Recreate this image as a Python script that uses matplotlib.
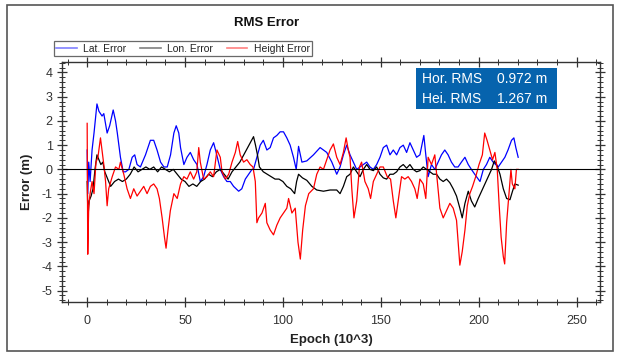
import matplotlib
matplotlib.use("Agg")
import matplotlib.pyplot as plt
from matplotlib.ticker import MultipleLocator
from matplotlib.lines import Line2D
from matplotlib.patches import Rectangle

plt.rcParams['font.family'] = ['Liberation Sans', 'DejaVu Sans']
plt.rcParams['axes.unicode_minus'] = False

# values (epoch in 10^3, error in m)
lat_epoch = [0, 0.3, 0.8, 1.5, 2.5, 3.5, 5, 6, 7.6, 8.5,
             10.2, 11.5, 13.3, 14.5, 15.4, 17, 18.4, 19.6, 21.3, 23,
             24.3, 25.5, 27.2, 29.8, 32.3, 34, 35.7, 37.5, 39.2, 40.9,
             42.6, 44.3, 45.5, 46.8, 47.7, 49.4, 51, 52.7, 54.4, 56.1,
             57.8, 59.5, 61.2, 62.9, 64.6, 65.9, 68, 69.7, 71.4, 73.1,
             74.8, 77.4, 79, 80.8, 82.5, 84.2, 85, 86.7, 88.4, 90,
             91.8, 93.5, 95.2, 96.9, 98.6, 100.3, 102, 103.7, 105.4, 106.8,
             108, 109.7, 112.2, 115.6, 119, 122.4, 125, 127.5, 129.2, 130.9,
             132.6, 134.3, 136, 137.7, 139.4, 141.1, 142.8, 144.5, 146.2, 147.9,
             149.6, 151.3, 153, 154.7, 156.4, 158.1, 159.8, 161.5, 163.2, 164.9,
             166.6, 168.3, 170, 172, 173, 174.2, 175.9, 177.6, 179.3, 181,
             182.7, 184.4, 186.1, 187.8, 189.5, 191.2, 193, 194.7, 196.3, 198,
             200.7, 202.4, 204, 205.7, 207.4, 210, 211.7, 213.4, 215, 216.8,
             218, 219, 220.2]
lat_err = [0.8, -1.0, 0.3, -0.5, 0.8, 1.5, 2.7, 2.4, 2.2, 2.3,
           1.5, 1.8, 2.45, 2.0, 1.5, 0.5, -0.1, -0.1, 0.0, 0.5,
           0.6, 0.2, 0.1, 0.6, 1.2, 1.2, 0.8, 0.3, 0.1, 0.1,
           0.6, 1.5, 1.8, 1.5, 0.9, 0.2, 0.5, 0.7, 0.4, 0.2,
           -0.5, -0.3, 0.2, 0.8, 1.1, 0.7, 0.0, -0.3, -0.5, -0.5,
           -0.7, -0.9, -0.8, -0.4, -0.2, 0.0, 0.0, 0.5, 1.0, 1.2,
           0.8, 0.9, 1.3, 1.4, 1.55, 1.55, 1.3, 1.0, 0.5, 0.0,
           0.95, 0.3, 0.35, 0.6, 0.9, 0.7, 0.3, -0.2, 0.1, 0.6,
           1.0, 0.6, 0.3, 0.0, 0.1, 0.2, 0.3, 0.1, 0.0, 0.2,
           0.5, 0.9, 1.0, 0.6, 0.8, 0.6, 0.9, 1.0, 0.7, 1.1,
           0.8, 0.5, 0.6, 1.4, 0.6, -0.3, 0.2, 0.0, 0.3, 0.6,
           0.8, 0.6, 0.3, 0.1, 0.1, 0.3, 0.5, 0.2, 0.0, -0.2,
           -0.5, 0.0, 0.2, 0.5, 0.3, 0.1, 0.3, 0.5, 0.8, 1.2,
           1.3, 0.9, 0.5]

lon_epoch = [0, 0.4, 1, 2, 3, 4, 5, 6, 7, 8,
             9, 10, 11, 12, 14, 16, 18, 20, 22, 24,
             26, 28, 30, 32, 34, 36, 38, 40, 42, 44,
             46, 48, 50, 52, 54, 56, 58, 60, 62, 64,
             66, 68, 70, 72, 74, 76, 78, 80, 82, 84,
             85, 86, 87, 88, 90, 92, 94, 96, 98, 100,
             102, 104, 106, 107, 108, 110, 112.2, 114.8, 117.3, 120.7,
             124.1, 127.5, 129.2, 130.9, 132.6, 134.3, 136, 137.7, 139.4, 141.1,
             142.8, 144.5, 146.2, 147.9, 149.6, 151.3, 153, 154.7, 156.4, 158.1,
             159.8, 161.5, 163.2, 164.9, 166.6, 168.3, 170, 171.7, 173.4, 175.1,
             176.8, 178.5, 180.2, 181.9, 183.6, 185.3, 187, 188.7, 190.4, 191.6,
             193, 194.7, 196.3, 198, 199.8, 201.5, 203.2, 204.9, 206.6, 208,
             209.2, 210.9, 212.6, 214.3, 216, 217.3, 218.5, 220.2]
lon_err = [-0.5, -2.0, -1.3, -1.1, -0.8, 0.0, 0.6, 0.4, 0.2, 0.3,
           -0.1, -0.3, -0.5, -0.7, -0.5, -0.4, -0.5, -0.4, -0.2, 0.1,
           -0.1, 0.0, 0.1, 0.0, 0.1, -0.1, 0.1, 0.0, -0.1, 0.0,
           -0.2, -0.4, -0.5, -0.7, -0.6, -0.7, -0.5, -0.4, -0.2, -0.3,
           -0.1, 0.0, -0.2, -0.4, -0.1, 0.1, 0.3, 0.6, 0.9, 1.2,
           1.35, 1.0, 0.6, 0.1, -0.1, -0.2, -0.3, -0.4, -0.4, -0.5,
           -0.7, -0.8, -1.0, -0.5, -0.2, -0.35, -0.45, -0.7, -0.85, -0.9,
           -0.85, -0.85, -1.0, -0.7, -0.3, -0.2, 0.1, -0.1, -0.3, 0.0,
           0.2, 0.0, -0.05, 0.1, -0.2, -0.35, -0.4, -0.2, -0.2, -0.1,
           0.1, 0.2, 0.05, 0.2, 0.0, -0.1, -0.05, 0.1, 0.0, -0.1,
           -0.2, -0.2, -0.4, -0.5, -0.4, -0.55, -0.8, -1.1, -1.6, -2.0,
           -1.4, -0.9, -1.3, -1.55, -1.2, -0.9, -0.6, -0.3, 0.0, 0.35,
           0.2, -0.2, -0.8, -1.2, -1.25, -0.9, -0.6, -0.65]

hgt_epoch = [0, 0.3, 0.8, 1.5, 2.5, 3.5, 4.5, 5.5, 6.8, 8.5,
             9.4, 10.2, 11, 12.8, 14.5, 16.2, 17, 18.7, 20.4, 22.1,
             23.8, 25.5, 27.2, 28.9, 30.6, 32.3, 34, 35.7, 36.9, 38.3,
             39.5, 40.3, 41.3, 42.5, 44.3, 46, 47.7, 49.4, 51, 52.7,
             54.4, 56, 57, 57.8, 59.5, 61.2, 62.9, 64.6, 66.3, 68,
             68.9, 70.6, 72.3, 74, 75.7, 76.9, 78.2, 79.9, 81.6, 83.3,
             84.7, 85.9, 86.7, 87.6, 89.3, 91, 91.8, 93.5, 95.2, 96.9,
             98.6, 100.3, 102, 102.9, 104.6, 106.3, 107.7, 108.9, 110.1, 111.5,
             113.2, 115.6, 117.3, 119, 120.7, 122.4, 124.1, 125.8, 127.5, 129.2,
             130.9, 132.3, 133.4, 134.3, 135.2, 136.3, 137.7, 139.1, 140.2, 141.9,
             143.6, 144.8, 146.2, 147.9, 149.6, 151.3, 153.3, 155, 156.4, 157.7,
             158.9, 160.6, 162.3, 164, 165.7, 167.4, 168.6, 170, 171.7, 173,
             174.2, 175.9, 177.6, 179, 180.2, 181.9, 183.6, 185.3, 187, 188.7,
             189.5, 190.4, 191.6, 193, 194.2, 195.5, 196.9, 198.5, 200.2, 201.9,
             203.1, 204.3, 205.7, 207.1, 208.3, 209.5, 210.5, 211.5, 212.6, 213.3,
             214.3, 215.5, 216.5, 217.2, 218.5, 219.3, 220.2]
hgt_err = [1.9, -3.5, -1.5, -1.0, -0.5, -1.0, 0.3, 0.5, 1.3, 0.2,
           -0.5, -1.5, -0.8, -0.3, 0.1, 0.0, 0.3, -0.2, -0.8, -1.2,
           -0.8, -1.1, -0.9, -0.7, -1.0, -0.7, -0.6, -0.8, -1.2, -2.0,
           -2.8, -3.25, -2.5, -1.7, -1.0, -1.2, -0.6, -0.3, -0.4, -0.1,
           -0.4, -0.1, 0.9, 0.3, -0.4, -0.3, -0.1, -0.3, 0.8, 0.5,
           -0.1, -0.4, -0.2, 0.3, 0.7, 1.15, 0.6, 0.3, 0.4, 0.2,
           0.1, -0.5, -2.2, -2.0, -1.8, -1.4, -2.2, -2.5, -2.7, -2.3,
           -2.0, -1.8, -1.6, -1.2, -1.8, -1.6, -3.0, -3.7, -2.5, -1.5,
           -1.0, -0.8, -0.2, 0.1, 0.0, 0.4, 0.8, 1.05, 0.5, 0.2,
           0.7, 1.3, 0.8, 0.5, -0.8, -2.0, -1.3, 0.1, 0.3, -0.5,
           -0.8, -1.2, -0.5, -0.2, 0.1, 0.1, -0.3, -0.4, -1.3, -2.0,
           -1.3, -0.3, -0.4, -0.3, -0.5, -0.8, -1.2, -0.4, -0.6, -1.2,
           0.5, 0.2, 0.6, -0.6, -1.6, -2.0, -1.7, -1.4, -1.6, -2.1,
           -3.0, -3.95, -3.4, -2.5, -1.5, -1.0, -0.7, -0.3, 0.2, 0.6,
           1.5, 1.2, 0.8, 0.4, 0.7, 0.0, -1.5, -2.8, -3.6, -3.9,
           -2.2, -1.0, 0.0, -0.6, -0.8, 0.0, 0.0]

hor_rms = 0.972
hei_rms = 1.267

W, H = 619, 354
fig = plt.figure(figsize=(W / 100, H / 100), dpi=100)


def fx(px):
    return px / W


def fy(py):
    return 1 - py / H


# outer frame
fig.patches.append(Rectangle((fx(7), fy(351)), fx(613) - fx(7), fy(5) - fy(351),
                             transform=fig.transFigure, fill=False,
                             edgecolor='#555555', linewidth=1.2))

ax = fig.add_axes([fx(62.5), fy(302), fx(600) - fx(62.5), fy(62) - fy(302)])

ax.plot(lat_epoch, lat_err, color='#0000ff', lw=0.9)
ax.plot(lon_epoch, lon_err, color='black', lw=0.9)
ax.plot(hgt_epoch, hgt_err, color='#ff0000', lw=0.9)
ax.axhline(0, color='black', lw=0.8)

ax.set_xlim(-12.6, 262)
ax.set_ylim(-5.47, 4.43)
ax.xaxis.set_major_locator(MultipleLocator(50))
ax.xaxis.set_minor_locator(MultipleLocator(10))
ax.yaxis.set_major_locator(MultipleLocator(1))
ax.yaxis.set_minor_locator(MultipleLocator(0.2))
ax.tick_params(which='both', direction='inout', top=True, right=True,
               color='#333333', labelsize=9, labelcolor='#333333')
ax.tick_params(which='major', length=7, width=0.9)
ax.tick_params(which='minor', length=4, width=0.7)
ax.tick_params(axis='x', pad=6)
for s in ax.spines.values():
    s.set_color('#333333')
    s.set_linewidth(1)

ax.set_xlabel('Epoch (10^3)', fontsize=9.5, fontweight='bold', color='#222222', labelpad=5)
ax.set_ylabel('Error (m)', fontsize=9.5, fontweight='bold', color='#222222', labelpad=6)

fig.text(fx(267), fy(23), 'RMS Error', ha='center', va='center',
         fontsize=9.5, fontweight='bold', color='#111111')

# legend above the plot
handles = [Line2D([], [], color='#8080ff', lw=1.2),
           Line2D([], [], color='#808080', lw=1.2),
           Line2D([], [], color='#ff8080', lw=1.2)]
leg = fig.legend(handles, ['Lat. Error', 'Lon. Error', 'Height Error'],
                 loc='center', bbox_to_anchor=(fx(183), fy(48.5)), ncol=3,
                 fontsize=7.5, frameon=True, fancybox=False, borderpad=0.2,
                 handlelength=2.0, handletextpad=0.6, columnspacing=1.3,
                 borderaxespad=0)
leg.get_frame().set_edgecolor('#444444')
leg.get_frame().set_linewidth(0.9)
for t in leg.get_texts():
    t.set_color('#222222')

# RMS box
fig.patches.append(Rectangle((fx(416), fy(109)), fx(557) - fx(416), fy(68) - fy(109),
                             transform=fig.transFigure, facecolor='#0663ad',
                             edgecolor='none', zorder=5))
fig.text(fx(422), fy(79), 'Hor. RMS', color='white', fontsize=10, va='center', zorder=6)
fig.text(fx(497), fy(79), f'{hor_rms:.3f} m', color='white', fontsize=10, va='center', zorder=6)
fig.text(fx(422), fy(99), 'Hei. RMS', color='white', fontsize=10, va='center', zorder=6)
fig.text(fx(497), fy(99), f'{hei_rms:.3f} m', color='white', fontsize=10, va='center', zorder=6)

fig.savefig('out.png', dpi=100)
